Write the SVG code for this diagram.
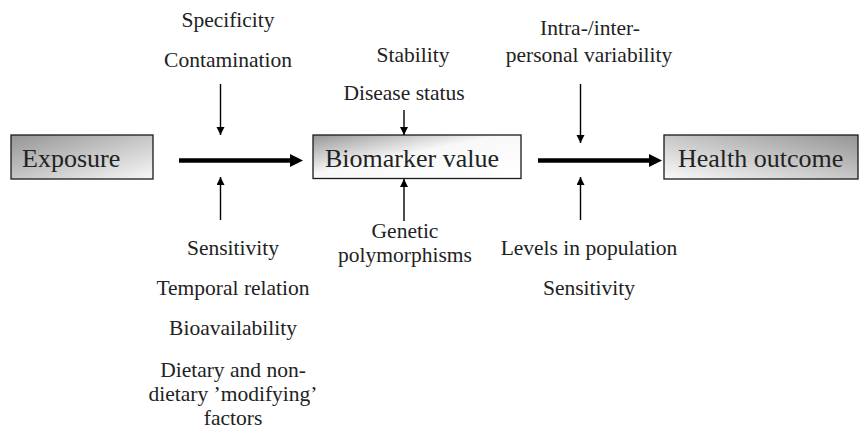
<svg xmlns="http://www.w3.org/2000/svg" width="861" height="431" viewBox="0 0 861 431">
  <style>
    .box { stroke: #1a1a1a; stroke-width: 1.3; }
    .t { font-family: "Liberation Serif", Tinos, "Times New Roman", Times, "Nimbus Roman", "Nimbus Roman No9 L", FreeSerif, "Noto Serif", "DejaVu Serif", Georgia, serif; }
    .boxtxt { font-size: 26px; fill: #222; }
    .lbl { font-size: 21.5px; fill: #222; text-anchor: middle; }
    .thin { stroke: #000; stroke-width: 1.4; fill: none; marker-end: url(#ah); }
    .thick { stroke: #000; stroke-width: 4.5; fill: none; marker-end: url(#ahBig); }
  </style>
  <defs>
    <marker id="ah" markerUnits="userSpaceOnUse" markerWidth="8" markerHeight="9" refX="8" refY="4" orient="auto">
      <path d="M0,0 L8,4 L0,8 Z" fill="#000"/>
    </marker>
    <marker id="ahBig" markerUnits="userSpaceOnUse" markerWidth="14" markerHeight="14" refX="5" refY="6.5" orient="auto">
      <path d="M0,0 L13,6.5 L0,13 Z" fill="#000"/>
    </marker>
    <linearGradient id="gExp" x1="0" y1="0" x2="1" y2="1">
      <stop offset="0" stop-color="#959595"/>
      <stop offset="1" stop-color="#f7f7f7"/>
    </linearGradient>
    <linearGradient id="gBio" x1="0" y1="0" x2="1" y2="1">
      <stop offset="0" stop-color="#969696"/>
      <stop offset="0.45" stop-color="#f8f8f8"/>
      <stop offset="1" stop-color="#ffffff"/>
    </linearGradient>
    <linearGradient id="gHea" x1="0" y1="1" x2="1" y2="0">
      <stop offset="0" stop-color="#fafafa"/>
      <stop offset="1" stop-color="#959595"/>
    </linearGradient>
  </defs>

  <g id="exposure">
    <rect class="box" x="11" y="135" width="142" height="44" fill="url(#gExp)"/>
    <text class="t boxtxt" x="22" y="167">Exposure</text>
  </g>
  <g id="biomarker">
    <rect class="box" x="313" y="135" width="208" height="43.5" fill="url(#gBio)"/>
    <text class="t boxtxt" x="325" y="167">Biomarker value</text>
  </g>
  <g id="health">
    <rect class="box" x="664" y="135" width="194" height="44" fill="url(#gHea)"/>
    <text class="t boxtxt" x="678" y="167">Health outcome</text>
  </g>

  <g id="labels">
    <text class="t lbl" x="228" y="27">Specificity</text>
    <text class="t lbl" x="228" y="67">Contamination</text>
    <text class="t lbl" x="413" y="62">Stability</text>
    <text class="t lbl" x="404" y="100">Disease status</text>
    <text class="t lbl" x="590" y="35">Intra-/inter-</text>
    <text class="t lbl" x="589" y="62">personal variability</text>
    <text class="t lbl" x="233" y="255">Sensitivity</text>
    <text class="t lbl" x="233" y="295">Temporal relation</text>
    <text class="t lbl" x="233" y="335">Bioavailability</text>
    <text class="t lbl" x="233" y="377">Dietary and non-</text>
    <text class="t lbl" x="233" y="401">dietary ’modifying’</text>
    <text class="t lbl" x="233" y="425">factors</text>
    <text class="t lbl" x="405" y="238">Genetic</text>
    <text class="t lbl" x="405" y="262">polymorphisms</text>
    <text class="t lbl" x="589" y="255">Levels in population</text>
    <text class="t lbl" x="589" y="295">Sensitivity</text>
  </g>

  <g id="connectors">
    <line class="thick" x1="179" y1="160.5" x2="295" y2="160.5"/>
    <line class="thick" x1="538" y1="160.5" x2="654" y2="160.5"/>
    <line class="thin" x1="220.5" y1="84" x2="220.5" y2="135"/>
    <line class="thin" x1="220.5" y1="220" x2="220.5" y2="177"/>
    <line class="thin" x1="404" y1="110" x2="404" y2="135"/>
    <line class="thin" x1="404" y1="221" x2="404" y2="179"/>
    <line class="thin" x1="580.5" y1="84" x2="580.5" y2="143"/>
    <line class="thin" x1="580.5" y1="220" x2="580.5" y2="177"/>
  </g>
</svg>
